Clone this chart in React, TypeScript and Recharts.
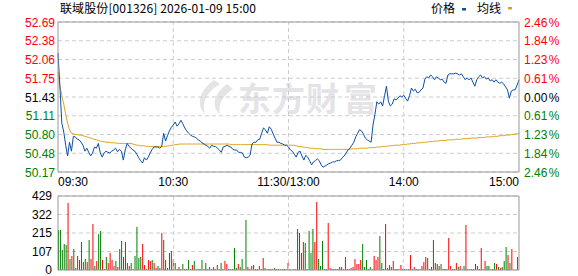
import React from "react";
import {
  LineChart,
  Line,
  BarChart,
  Bar,
  Cell,
  XAxis,
  YAxis,
  CartesianGrid,
  ReferenceLine,
} from "recharts";

const FONT = "'Liberation Sans', Arial, sans-serif";
const CJK = "'Noto Sans CJK SC', sans-serif";
const UP = "#ff0000";
const DOWN = "#008000";
const FRAME = "#999999";
const GRID = "#cccccc";

const title = "联域股份[001326] 2026-01-09 15:00";
const prevClose = 51.43;

// minute prices, 09:30 .. 15:00
const prices = [
  52.17, 51.6, 50.99, 50.84, 50.62, 50.44, 50.67, 50.52, 50.77, 50.76,
  50.72, 50.71, 50.67, 50.62, 50.52, 50.57, 50.5, 50.44, 50.49, 50.59,
  50.57, 50.65, 50.49, 50.42, 50.49, 50.52, 50.5, 50.49, 50.52, 50.54,
  50.57, 50.51, 50.55, 50.52, 50.37, 50.54, 50.65, 50.6, 50.57, 50.54,
  50.52, 50.47, 50.41, 50.36, 50.32, 50.41, 50.37, 50.42, 50.49, 50.55,
  50.59, 50.59, 50.59, 50.57, 50.6, 50.82, 50.69, 50.78, 50.86, 50.92,
  50.96, 51.01, 50.94, 50.98, 51.04, 50.98, 50.91, 50.86, 50.82, 50.79,
  50.77, 50.76, 50.74, 50.71, 50.69, 50.66, 50.64, 50.62, 50.6, 50.57,
  50.62, 50.6, 50.6, 50.57, 50.54, 50.5, 50.59, 50.6, 50.62, 50.6,
  50.59, 50.55, 50.54, 50.54, 50.5, 50.5, 50.49, 50.42, 50.41, 50.42,
  50.45, 50.64, 50.67, 50.67, 50.71, 50.72, 50.82, 50.91, 50.88, 50.82,
  50.93, 50.89, 50.81, 50.74, 50.67, 50.67, 50.65, 50.64, 50.62, 50.62,
  50.59, 50.54, 50.52, 50.47, 50.42, 50.5, 50.52, 50.44, 50.37, 50.45,
  50.42, 50.36, 50.29, 50.34, 50.36, 50.39, 50.36, 50.29, 50.25, 50.27,
  50.29, 50.31, 50.32, 50.34, 50.34, 50.36, 50.36, 50.37, 50.41, 50.44,
  50.49, 50.54, 50.57, 50.62, 50.67, 50.76, 50.82, 50.88, 50.86, 50.81,
  50.74, 50.71, 50.69, 50.67, 50.96, 51.14, 51.35, 51.31, 51.35, 51.28,
  51.45, 51.61, 51.36, 51.28, 51.31, 51.4, 51.38, 51.41, 51.45, 51.43,
  51.46, 51.41, 51.36, 51.45, 51.58, 51.53, 51.56, 51.5, 51.51, 51.55,
  51.58, 51.73, 51.77, 51.75, 51.8, 51.77, 51.72, 51.77, 51.75, 51.72,
  51.73, 51.68, 51.66, 51.8, 51.82, 51.82, 51.82, 51.83, 51.82, 51.8,
  51.82, 51.77, 51.72, 51.75, 51.72, 51.75, 51.68, 51.61, 51.72, 51.77,
  51.8, 51.75, 51.77, 51.73, 51.75, 51.7, 51.72, 51.68, 51.72, 51.68,
  51.66, 51.68, 51.65, 51.6, 51.55, 51.41, 51.53, 51.55, 51.55, 51.63,
  51.72,
];

// average price line
const avgPrices = [
  51.85, 51.62, 51.45, 51.31, 51.14, 50.99, 50.88, 50.82, 50.81, 50.8,
  50.8, 50.79, 50.79, 50.78, 50.77, 50.76, 50.75, 50.74, 50.73, 50.72,
  50.71, 50.7, 50.69, 50.68, 50.68, 50.67, 50.67, 50.67, 50.66, 50.66,
  50.66, 50.65, 50.65, 50.65, 50.65, 50.65, 50.65, 50.65, 50.65, 50.64,
  50.63, 50.62, 50.62, 50.61, 50.61, 50.61, 50.6, 50.6, 50.6, 50.6,
  50.6, 50.6, 50.6, 50.6, 50.6, 50.6, 50.6, 50.61, 50.61, 50.62,
  50.62, 50.63, 50.63, 50.64, 50.64, 50.64, 50.64, 50.64, 50.64, 50.64,
  50.64, 50.64, 50.64, 50.64, 50.64, 50.64, 50.64, 50.64, 50.64, 50.64,
  50.64, 50.64, 50.64, 50.64, 50.64, 50.64, 50.64, 50.64, 50.64, 50.64,
  50.63, 50.63, 50.63, 50.63, 50.63, 50.63, 50.63, 50.63, 50.63, 50.63,
  50.63, 50.63, 50.63, 50.63, 50.63, 50.63, 50.63, 50.63, 50.63, 50.63,
  50.62, 50.62, 50.62, 50.62, 50.62, 50.62, 50.62, 50.62, 50.62, 50.62,
  50.62, 50.62, 50.62, 50.62, 50.61, 50.6, 50.6, 50.59, 50.59, 50.58,
  50.58, 50.57, 50.57, 50.57, 50.56, 50.56, 50.56, 50.56, 50.55, 50.55,
  50.55, 50.55, 50.55, 50.55, 50.55, 50.55, 50.55, 50.55, 50.55, 50.55,
  50.55, 50.55, 50.55, 50.56, 50.56, 50.56, 50.56, 50.57, 50.57, 50.57,
  50.57, 50.57, 50.58, 50.58, 50.58, 50.58, 50.59, 50.59, 50.59, 50.6,
  50.6, 50.6, 50.61, 50.61, 50.61, 50.62, 50.62, 50.62, 50.62, 50.63,
  50.63, 50.63, 50.64, 50.64, 50.65, 50.65, 50.65, 50.66, 50.66, 50.66,
  50.67, 50.67, 50.67, 50.68, 50.68, 50.68, 50.69, 50.69, 50.69, 50.7,
  50.7, 50.7, 50.7, 50.71, 50.71, 50.71, 50.71, 50.72, 50.72, 50.72,
  50.72, 50.73, 50.73, 50.73, 50.73, 50.74, 50.74, 50.74, 50.74, 50.75,
  50.75, 50.75, 50.75, 50.76, 50.76, 50.76, 50.76, 50.77, 50.77, 50.77,
  50.78, 50.78, 50.78, 50.79, 50.79, 50.79, 50.8, 50.8, 50.81, 50.81,
  50.82,
];

// volume per minute (lots)
const volumes = [
  232, 232, 116, 151, 145, 389, 64, 81, 122, 12,
  81, 58, 162, 46, 64, 46, 174, 64, 267, 23,
  52, 209, 226, 58, 6, 75, 41, 99, 58, 23,
  52, 17, 122, 168, 75, 162, 41, 23, 41, 6,
  81, 249, 70, 75, 151, 29, 6, 58, 52, 58,
  41, 12, 23, 12, 215, 174, 58, 12, 99, 110,
  64, 41, 6, 17, 6, 35, 6, 6, 58, 6,
  29, 52, 6, 6, 6, 58, 6, 41, 6,
  17, 6, 17, 6, 29, 6, 41, 6, 52, 35,
  6, 6, 6, 128, 12, 35, 17, 64, 6, 290,
  17, 6, 23, 29, 6, 6, 23, 6, 70, 12,
  6, 6, 6, 6, 12, 6, 6, 6, 6, 6,
  6, 41, 6, 0, 6, 6, 238, 215, 99, 162,
  157, 6, 226, 99, 238, 162, 394, 64, 23, 168,
  6, 6, 273, 12, 6, 6, 6, 6, 17, 17,
  6, 75, 6, 6, 12, 17, 64, 35, 35, 58, 151,
  17, 58, 6, 17, 6, 81, 58, 75, 197, 41,
  6, 267, 12, 29, 17, 52, 6, 6, 6, 29,
  6, 6, 6, 6, 87, 6, 17, 6, 6, 6,
  23, 46, 75, 70, 6, 17, 174, 41, 35, 23,
  35, 6, 6, 6, 186, 23, 6, 6, 41, 17,
  23, 6, 23, 261, 6, 6, 6, 6, 35, 23,
  6, 128, 6, 52, 23, 23, 6, 6, 41, 35,
  17, 12, 17, 52, 133, 87, 41, 122, 0, 0, 75,
];

// R = up minute, G = down minute
const volSide = (
  "GGGGGRGRGG RRGGGRGRRG RGGRRGRRRR GRGGRRGRGR GGGGRRGRRG RRGRRGRRRG RGRRGGGGGR RGGGGGRGG " +
  "GGGRRGGGRR RRRGGRGGRG RRRRGGRGRG GRGGGGGGGG GRGGRRGGRR GGGGGRRGGG GRRRRRRRRR GRGGRRRRRRG " +
  "GGGGRRRRGG RRGGGRRGRR GGGGRRRRRR RRRGGGGRGR GGGRRRRRRG RRGRGGGGGR GRGRGGRRGR GRGGGRGRGGR"
)
  .replace(/\s/g, "")
  .split("");

const priceTicks = [50.17, 50.485, 50.8, 51.115, 51.43, 51.745, 52.06, 52.375, 52.69];
const priceTickLabels = ["50.17", "50.48", "50.80", "51.11", "51.43", "51.75", "52.06", "52.38", "52.69"];
const pctTickLabels = ["2.46", "1.84", "1.23", "0.61", "0.00", "0.61", "1.23", "1.84", "2.46"];
const volTicks = [0, 107.25, 214.5, 321.75, 429];
const volTickLabels = ["0", "107", "215", "322", "429"];
const timeTicks = ["09:30", "10:30", "11:30", "14:00", "15:00"];
const timeTickLabels = ["09:30", "10:30", "11:30/13:00", "14:00", "15:00"];

function buildTimes(): string[] {
  const out: string[] = [];
  const fmt = (m: number) =>
    `${String(Math.floor(m / 60)).padStart(2, "0")}:${String(m % 60).padStart(2, "0")}`;
  for (let m = 570; m <= 690; m++) out.push(fmt(m));
  for (let m = 781; m <= 900; m++) out.push(fmt(m));
  return out;
}

const times = buildTimes();
const rows = times.map((t, i) => ({ t, p: prices[i], a: avgPrices[i], v: volumes[i] }));

function sideColor(v: number) {
  if (v > prevClose + 0.001) return UP;
  if (v < prevClose - 0.001) return DOWN;
  return "#000";
}

function PriceTick(props: any) {
  const { y, payload } = props;
  const i = priceTicks.indexOf(payload.value);
  return (
    <text x={55} y={y} dy={4.5} textAnchor="end" fill={sideColor(payload.value)} fontSize={12} fontFamily={FONT}>
      {priceTickLabels[i]}
    </text>
  );
}

function PctTick(props: any) {
  const { y, payload } = props;
  const i = priceTicks.indexOf(payload.value);
  const c = sideColor(payload.value);
  return (
    <text x={524} y={y} dy={4.5} textAnchor="start" fill={c} fontSize={12} fontFamily={FONT}>
      {pctTickLabels[i]}
      <tspan dx={1.5}>%</tspan>
    </text>
  );
}

function TimeTick(props: any) {
  const { x, payload } = props;
  const i = timeTicks.indexOf(payload.value);
  const anchor = i === 0 ? "start" : i === timeTicks.length - 1 ? "end" : "middle";
  return (
    <text x={x} y={186} textAnchor={anchor} fill="#000" fontSize={12} fontFamily={FONT}>
      {timeTickLabels[i]}
    </text>
  );
}

function VolTick(props: any) {
  const { y, payload } = props;
  const i = volTicks.indexOf(payload.value);
  return (
    <text x={52} y={y} dy={4} textAnchor="end" fill="#000" fontSize={12} fontFamily={FONT}>
      {volTickLabels[i]}
    </text>
  );
}

function Watermark() {
  const fill = "#e4e4e8";
  return (
    <svg width={578} height={190} style={{ position: "absolute", left: 0, top: 0 }}>
      <path d="M214 80 C197 92 197 107 205 114 C202 104 205 93 220 84 Z" fill={fill} />
      <path d="M227 84 C212 95 212 108 220 114 C218 106 221 97 233 89 Z" fill={fill} />
      <g fontFamily={CJK} fontWeight={700} fontSize={33} fill={fill}>
        <text x={238} y={111}>东</text>
        <text x={272} y={111}>方</text>
        <text x={306} y={111}>财</text>
        <text x={344} y={111}>富</text>
      </g>
    </svg>
  );
}

function Header() {
  return (
    <svg width={578} height={20} style={{ position: "absolute", left: 0, top: 0 }}>
      <text x={60} y={13} fontFamily={CJK} fontSize={12} fill="#000" textLength={196} lengthAdjust="spacing">
        {title}
      </text>
      <text x={431} y={13} fontFamily={CJK} fontSize={12} fill="#000">价格</text>
      <rect x={462} y={8} width={4} height={2.5} fill="#0d4fa3" />
      <text x={477} y={13} fontFamily={CJK} fontSize={12} fill="#000">均线</text>
      <rect x={508} y={7} width={4} height={2.5} fill="#dea31c" />
    </svg>
  );
}

export default function App() {
  return (
    <div style={{ position: "absolute", left: 0, top: 0, width: 578, height: 276, background: "#fff", overflow: "hidden" }}>
      <Watermark />
      <div style={{ position: "absolute", left: 0, top: 0 }}>
        <LineChart width={578} height={190} data={rows} margin={{ top: 22, right: 0, bottom: 0, left: 0 }}>
          <CartesianGrid vertical={false} stroke={GRID} strokeDasharray="4 3" />
          <XAxis
            dataKey="t"
            ticks={timeTicks}
            interval={0}
            height={18}
            tickLine={false}
            axisLine={{ stroke: FRAME }}
            tick={(p: any) => <TimeTick {...p} />}
          />
          <YAxis
            domain={[50.17, 52.69]}
            ticks={priceTicks}
            width={58}
            tickLine={false}
            axisLine={{ stroke: FRAME }}
            tick={(p: any) => <PriceTick {...p} />}
            interval={0}
          />
          <YAxis
            yAxisId="pct"
            orientation="right"
            domain={[50.17, 52.69]}
            ticks={priceTicks}
            width={59}
            tickLine={false}
            axisLine={{ stroke: FRAME }}
            tick={(p: any) => <PctTick {...p} />}
            interval={0}
          />
          {timeTicks.slice(1, 4).map((t) => (
            <ReferenceLine key={t} x={t} stroke={GRID} strokeDasharray="4 3" />
          ))}
          <ReferenceLine y={52.69} stroke={FRAME} />
          <Line
            dataKey="a"
            yAxisId="pct"
            type="linear"
            stroke="#dea31c"
            strokeWidth={1}
            dot={false}
            isAnimationActive={false}
          />
          <Line
            dataKey="p"
            type="linear"
            stroke="#0d4fa3"
            strokeWidth={1}
            dot={false}
            isAnimationActive={false}
          />
        </LineChart>
      </div>
      <Header />
      <div style={{ position: "absolute", left: 0, top: 190 }}>
        <BarChart width={578} height={86} data={rows} margin={{ top: 6, right: 0, bottom: 6, left: 0 }} barCategoryGap={0}>
          <CartesianGrid vertical={false} stroke={GRID} strokeDasharray="4 3" />
          <XAxis dataKey="t" hide />
          <YAxis
            domain={[0, 429]}
            ticks={volTicks}
            width={58}
            tickLine={false}
            axisLine={{ stroke: FRAME }}
            tick={(p: any) => <VolTick {...p} />}
            interval={0}
          />
          <YAxis
            yAxisId="r"
            orientation="right"
            domain={[0, 429]}
            width={59}
            tick={false}
            tickLine={false}
            axisLine={{ stroke: FRAME }}
          />
          {timeTicks.slice(1, 4).map((t) => (
            <ReferenceLine key={t} x={t} stroke={GRID} strokeDasharray="4 3" />
          ))}
          <ReferenceLine y={429} stroke={FRAME} />
          <ReferenceLine y={0} stroke={FRAME} />
          <Bar dataKey="v" barSize={1} isAnimationActive={false}>
            {rows.map((r, i) => (
              <Cell key={r.t} fill={volSide[i] === "R" ? UP : DOWN} />
            ))}
          </Bar>
        </BarChart>
      </div>
    </div>
  );
}
